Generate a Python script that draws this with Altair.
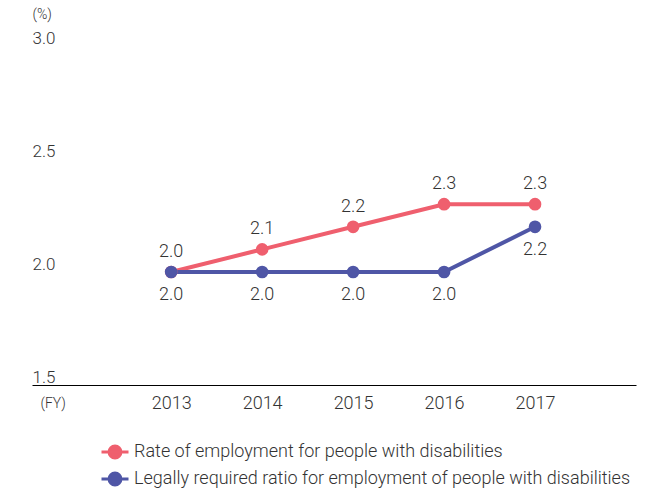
import altair as alt
import pandas as pd

years = [2013, 2014, 2015, 2016, 2017]
rate = [2.0, 2.1, 2.2, 2.3, 2.3]
legal = [2.0, 2.0, 2.0, 2.0, 2.2]
series_names = [
    "Rate of employment for people with disabilities",
    "Legally required ratio for employment of people with disabilities",
]
colors = ["#EF5F6E", "#4F56A6"]
y_ticks = [1.5, 2.0, 2.5, 3.0]

rows = []
for yr, r, l in zip(years, rate, legal):
    rows.append({"year": yr, "value": r, "series": series_names[0]})
    rows.append({"year": yr, "value": l, "series": series_names[1]})
df = pd.DataFrame(rows)

FONT = "Roboto"
TXT = "#333333"

x = alt.X(
    "year:Q",
    scale=alt.Scale(domain=[2011.47, 2018.11], nice=False, zero=False),
    axis=alt.Axis(
        values=years, format="d", title="(FY)", titleAngle=0, titleX=8, titleY=11,
        titleAlign="left", titleBaseline="top", titleFontSize=14, titleFontWeight=300,
        titleColor=TXT, labelFontSize=18, labelPadding=9, ticks=False, tickSize=0,
        grid=False, domainColor="#000000", domainWidth=1, labelColor=TXT,
        labelFlush=False, labelFontWeight=300,
    ),
)
y = alt.Y(
    "value:Q",
    scale=alt.Scale(domain=[1.5, 3.0], nice=False, zero=False),
    axis=alt.Axis(
        values=y_ticks, format=".1f", title="(%)", titleAngle=0, titleX=0, titleY=-32,
        titleAlign="left", titleBaseline="middle", titleFontSize=14, titleFontWeight=300,
        titleColor=TXT, labelAlign="left", labelPadding=0, ticks=False, tickSize=0,
        domain=False, grid=False, labelBaseline="alphabetic", labelOffset=-3,
        labelFontSize=17, labelColor=TXT, labelFlush=False, labelFontWeight=300,
    ),
)
color = alt.Color(
    "series:N",
    scale=alt.Scale(domain=series_names, range=colors),
    legend=alt.Legend(title=None),
)

base = alt.Chart(df)
lines = base.mark_line(strokeWidth=4).encode(x=x, y=y, color=color)
points = base.mark_circle(size=160, opacity=1).encode(x=x, y=y, color=color)
labels_rate = base.transform_filter(alt.datum.series == series_names[0]).mark_text(
    dy=-20, baseline="middle", fontSize=18, font=FONT, fontWeight=300, color=TXT
).encode(x=x, y=y, text=alt.Text("value:Q", format=".1f"))
labels_legal = base.transform_filter(alt.datum.series == series_names[1]).mark_text(
    dy=23, baseline="middle", fontSize=18, font=FONT, fontWeight=300, color=TXT
).encode(x=x, y=y, text=alt.Text("value:Q", format=".1f"))

chart = (
    alt.layer(lines, points, labels_rate, labels_legal)
    .properties(
        width=604, height=339,
        autosize=alt.AutoSizeParams(type="none"),
        padding={"left": 32, "top": 46, "right": 10, "bottom": 104},
    )
    .configure_view(stroke=None)
    .configure_axis(labelFont=FONT, titleFont=FONT)
    .configure_legend(
        orient="none", legendX=68, legendY=391, labelFont=FONT, labelFontSize=18,
        labelFontWeight=300, labelColor=TXT, labelLimit=600,
        symbolType="M-1,0L1,0M-0.44,0A0.44,0.44,0,1,0,0.44,0A0.44,0.44,0,1,0,-0.44,0Z",
        symbolSize=729, symbolStrokeWidth=3, labelOffset=4, rowPadding=-3,
        symbolOpacity=1,
    )
)
chart.save("out.html", embed_options={"renderer": "svg", "actions": False})
